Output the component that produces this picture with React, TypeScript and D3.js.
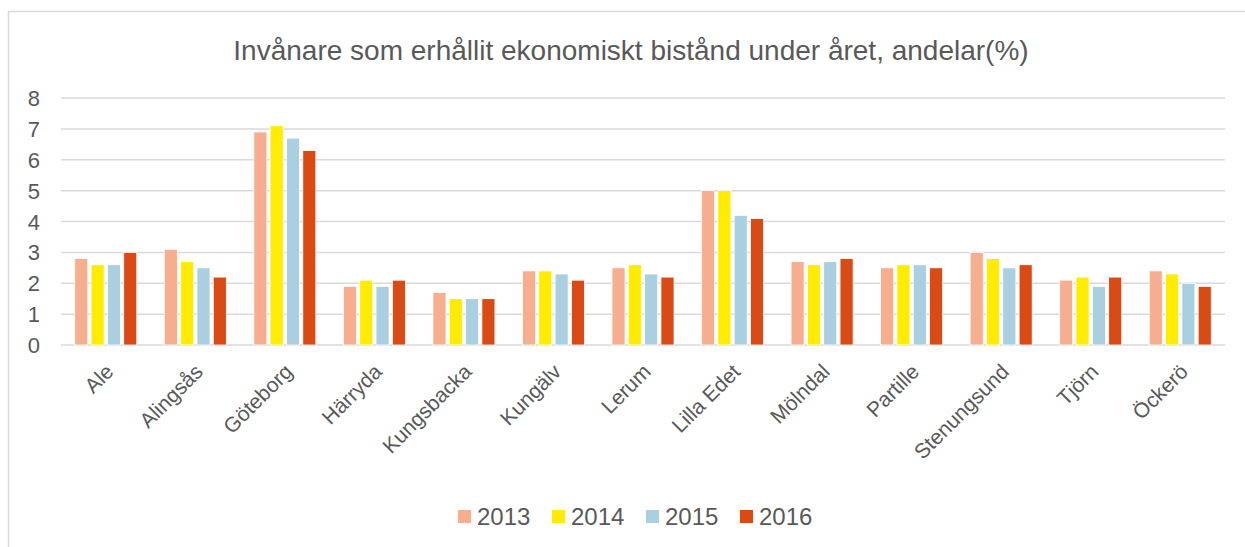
import React from "react";
import * as d3 from "d3";

const title = "Invånare som erhållit ekonomiskt bistånd under året, andelar(%)";
const categories = ["Ale", "Alingsås", "Göteborg", "Härryda", "Kungsbacka", "Kungälv", "Lerum", "Lilla Edet", "Mölndal", "Partille", "Stenungsund", "Tjörn", "Öckerö"];
const years = ["2013", "2014", "2015", "2016"];
const v2013 = [2.8, 3.1, 6.9, 1.9, 1.7, 2.4, 2.5, 5.0, 2.7, 2.5, 3.0, 2.1, 2.4];
const v2014 = [2.6, 2.7, 7.1, 2.1, 1.5, 2.4, 2.6, 5.0, 2.6, 2.6, 2.8, 2.2, 2.3];
const v2015 = [2.6, 2.5, 6.7, 1.9, 1.5, 2.3, 2.3, 4.2, 2.7, 2.6, 2.5, 1.9, 2.0];
const v2016 = [3.0, 2.2, 6.3, 2.1, 1.5, 2.1, 2.2, 4.1, 2.8, 2.5, 2.6, 2.2, 1.9];
const yTicks = [0, 1, 2, 3, 4, 5, 6, 7, 8];
const colors = ["#F6AE8F", "#FFEC00", "#AACFE0", "#DA4A14"];

const seriesValues = [v2013, v2014, v2015, v2016];
const FONT = "'Liberation Sans', Arial, sans-serif";
const TEXT = "#595959";
const GRID = "#D9D9D9";

export default function App() {
  const W = 1245, H = 547;
  const left = 61, right = 1225, top = 98, bottom = 345;
  const y = d3.scaleLinear().domain([0, 8]).range([bottom, top]);
  const x0 = d3.scaleBand<string>().domain(categories).range([left, right]).padding(0);
  const bw = x0.bandwidth();
  const x1 = d3.scaleBand<string>().domain(years).range([13.75, bw - 13.75]).paddingInner(0.2).paddingOuter(0);
  const legendX = [458, 552, 646, 740];

  return (
    <svg width={W} height={H} style={{ position: "absolute", left: 0, top: 0, background: "#fff" }}>
      <rect x={8.5} y={11.5} width={1260} height={560} fill="#fff" stroke={GRID} strokeWidth={1.5} />
      <text x={631} y={60} textAnchor="middle" fontFamily={FONT} fontSize={28} fill={TEXT}>{title}</text>
      {yTicks.map((t) => (
        <g key={t}>
          <line x1={left} x2={right} y1={y(t)} y2={y(t)} stroke={GRID} strokeWidth={1.5} />
          <text x={40} y={y(t) + 8} textAnchor="end" fontFamily={FONT} fontSize={22} fill={TEXT}>{t}</text>
        </g>
      ))}
      {categories.map((c, i) => (
        <g key={c} transform={`translate(${x0(c)},0)`}>
          {years.map((yr, j) => {
            const v = seriesValues[j][i];
            return (
              <rect key={yr} x={x1(yr)} y={y(v)} width={x1.bandwidth()} height={y(0) - y(v)}
                fill={colors[j]} stroke="#fff" strokeWidth={0.8} />
            );
          })}
        </g>
      ))}
      {categories.map((c) => {
        const cx = (x0(c) as number) + bw / 2 + 9;
        return (
          <text key={c} transform={`translate(${cx},${373}) rotate(-45)`} textAnchor="end"
            fontFamily={FONT} fontSize={21} fill={TEXT}>{c}</text>
        );
      })}
      {years.map((yr, j) => (
        <g key={yr}>
          <rect x={legendX[j]} y={510} width={13} height={13} fill={colors[j]} />
          <text x={legendX[j] + 19} y={525} fontFamily={FONT} fontSize={24} fill={TEXT}>{yr}</text>
        </g>
      ))}
    </svg>
  );
}
